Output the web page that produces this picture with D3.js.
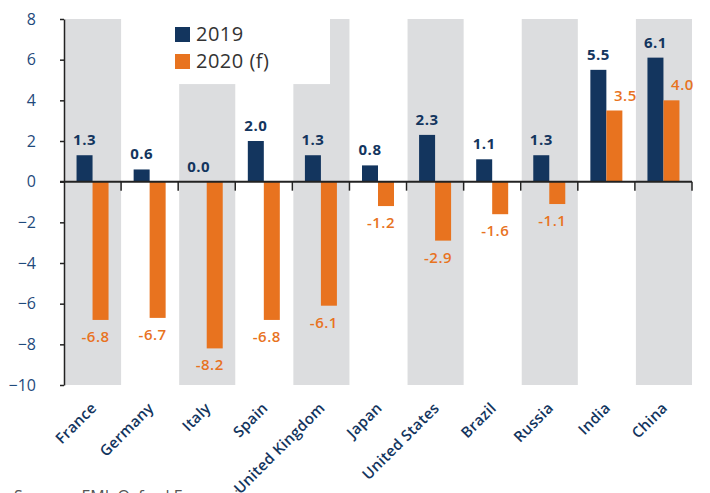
<!DOCTYPE html>
<html>
<head>
<meta charset="utf-8">
<script src="https://cdn.jsdelivr.net/npm/d3@7"></script>
<style>
  body { margin: 0; background: #fff; }
  svg text { font-family: "Open Sans", sans-serif; }
</style>
</head>
<body>
<div id="chart"></div>
<script>
// data
const categories = ["France", "Germany", "Italy", "Spain", "United Kingdom", "Japan",
  "United States", "Brazil", "Russia", "India", "China"];
const growth2019 = [1.3, 0.6, 0.0, 2.0, 1.3, 0.8, 2.3, 1.1, 1.3, 5.5, 6.1];
const growth2020 = [-6.8, -6.7, -8.2, -6.8, -6.1, -1.2, -2.9, -1.6, -1.1, 3.5, 4.0];
const yTicks = [-10, -8, -6, -4, -2, 0, 2, 4, 6, 8];
const seriesNames = ["2019", "2020 (f)"];
const sourceNote = "Sources: EMI, Oxford Economics";

const navy = "#13355e";
const orange = "#e8731f";
const shade = "#dcdddf";

const width = 710, height = 493;
const margin = { top: 19, right: 18, bottom: 108, left: 64 };
const innerW = width - margin.left - margin.right;
const innerH = height - margin.top - margin.bottom;

const svg = d3.select("#chart").append("svg")
  .attr("width", width)
  .attr("height", height);

const plot = svg.append("g")
  .attr("transform", `translate(${margin.left},${margin.top})`);

const x = d3.scaleBand()
  .domain(categories)
  .range([0, innerW]);

const y = d3.scaleLinear()
  .domain([-10, 8])
  .range([innerH, 0]);

const barW = 16;

// alternating grey columns
plot.selectAll(".shade")
  .data(categories.filter((d, i) => i % 2 === 0))
  .enter().append("rect")
  .attr("class", "shade")
  .attr("x", d => x(d) + 1)
  .attr("y", y(8))
  .attr("width", x.bandwidth() - 1)
  .attr("height", y(-10) - y(8))
  .attr("fill", shade);

// legend sits on a white box over the columns
const legend = svg.append("g");
legend.append("rect")
  .attr("x", 130).attr("y", 0)
  .attr("width", 200).attr("height", margin.top + y(4.8))
  .attr("fill", "#fff");

seriesNames.forEach((name, i) => {
  const ly = 27 + i * 27;
  legend.append("rect")
    .attr("x", 175).attr("y", ly)
    .attr("width", 15).attr("height", 15)
    .attr("fill", i === 0 ? navy : orange);
  legend.append("text")
    .attr("x", 196).attr("y", ly + 14)
    .attr("font-size", 20)
    .attr("fill", "#333")
    .style("letter-spacing", "0.5px")
    .text(name);
});

// bars
const rows = categories.map((c, i) => ({ name: c, a: growth2019[i], b: growth2020[i] }));

const groups = plot.selectAll(".grp")
  .data(rows)
  .enter().append("g")
  .attr("transform", d => `translate(${x(d.name) + x.bandwidth() / 2},0)`);

groups.append("rect")
  .attr("x", -barW)
  .attr("y", d => y(Math.max(d.a, 0)))
  .attr("width", barW)
  .attr("height", d => Math.abs(y(d.a) - y(0)))
  .attr("fill", navy);

groups.append("rect")
  .attr("x", 0)
  .attr("y", d => y(Math.max(d.b, 0)))
  .attr("width", barW)
  .attr("height", d => Math.abs(y(d.b) - y(0)))
  .attr("fill", orange);

groups.append("text")
  .attr("x", -barW / 2)
  .attr("y", d => y(Math.max(d.a, 0)) - 10)
  .attr("text-anchor", "middle")
  .attr("font-size", 15)
  .attr("font-weight", 700)
  .attr("fill", navy)
  .style("letter-spacing", "0.5px")
  .text(d => d.a.toFixed(1));

groups.append("text")
  .attr("x", d => d.b < 0 ? barW / 2 - 5 : barW / 2 + 11)
  .attr("y", d => d.b < 0 ? y(d.b) + 22 : y(d.b) - 10)
  .attr("text-anchor", "middle")
  .attr("font-size", 15)
  .attr("font-weight", 600)
  .attr("fill", orange)
  .style("letter-spacing", "0.5px")
  .text(d => d.b.toFixed(1));

// y axis
const yAxis = plot.append("g")
  .call(d3.axisLeft(y)
    .tickValues(yTicks)
    .tickSize(4)
    .tickSizeOuter(0)
    .tickPadding(24)
    .tickFormat(d3.format("d")));
yAxis.select(".domain").attr("stroke", "#222").attr("stroke-width", 1.5);
yAxis.selectAll(".tick line").attr("stroke", "#222").attr("stroke-width", 1.5);
yAxis.selectAll(".tick text")
  .attr("font-size", 16)
  .attr("fill", "#1f4a7c")
  .style("font-family", "'Open Sans', sans-serif");

// zero line with category dividers
plot.append("line")
  .attr("x1", -4).attr("x2", innerW)
  .attr("y1", y(0)).attr("y2", y(0))
  .attr("stroke", "#222").attr("stroke-width", 2);

const dividers = categories.slice(1).map(c => x(c)).concat(x.range()[1]);
plot.selectAll(".divider")
  .data(dividers)
  .enter().append("line")
  .attr("x1", d => d).attr("x2", d => d)
  .attr("y1", y(0)).attr("y2", y(0) + 9)
  .attr("stroke", "#222").attr("stroke-width", 1.5);

// category labels
plot.selectAll(".cat")
  .data(categories)
  .enter().append("text")
  .attr("transform", d => `translate(${x(d) + x.bandwidth() / 2 + 5},${innerH + 24}) rotate(-45)`)
  .attr("text-anchor", "end")
  .attr("font-size", 15)
  .attr("font-weight", 600)
  .attr("fill", navy)
  .style("letter-spacing", "0.3px")
  .text(d => d);

// source note, cut by the bottom edge
svg.append("text")
  .attr("x", 14).attr("y", 502)
  .attr("font-size", 16)
  .attr("fill", "#555")
  .text(sourceNote);
</script>
</body>
</html>
